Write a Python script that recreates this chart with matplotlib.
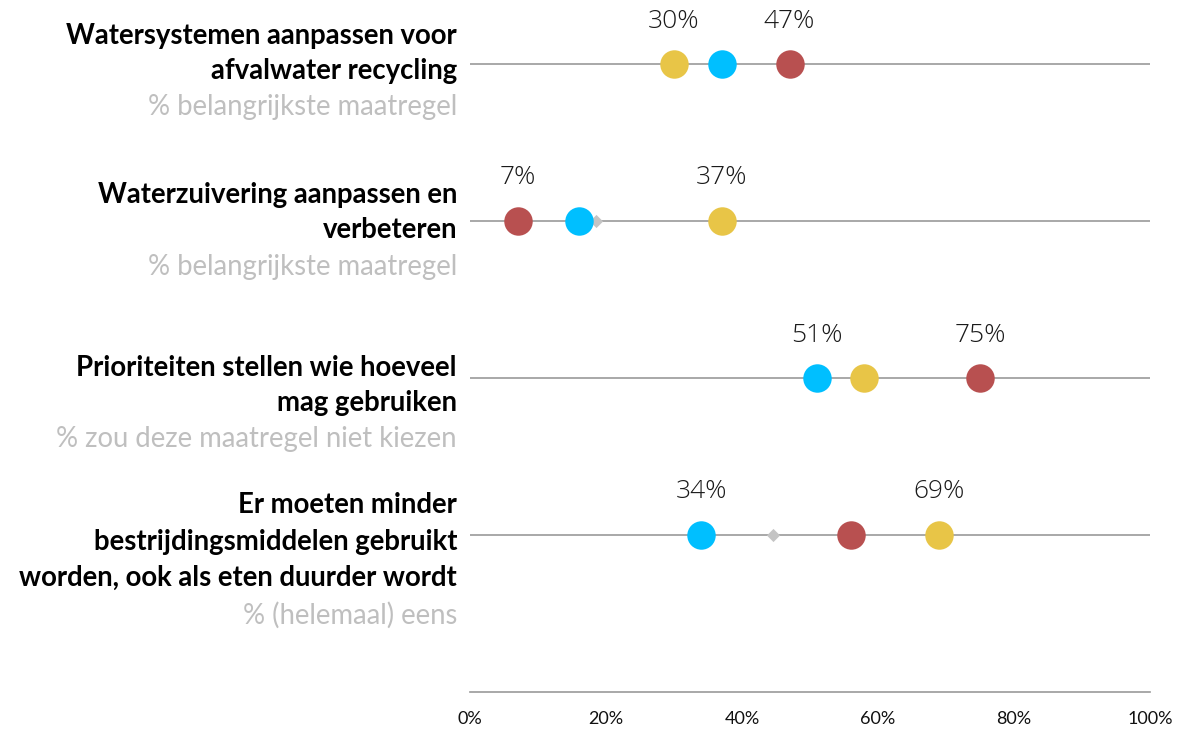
import matplotlib
matplotlib.use("Agg")
import matplotlib.pyplot as plt
import numpy as np

# ---- data ----
titles = [
    "Watersystemen aanpassen voor\nafvalwater recycling",
    "Waterzuivering aanpassen en\nverbeteren",
    "Prioriteiten stellen wie hoeveel\nmag gebruiken",
    "Er moeten minder\nbestrijdingsmiddelen gebruikt\nworden, ook als eten duurder wordt",
]
subtitles = [
    "% belangrijkste maatregel",
    "% belangrijkste maatregel",
    "% zou deze maatregel niet kiezen",
    "% (helemaal) eens",
]
series_red = [47, 7, 75, 56]
series_blue = [37, 16, 51, 34]
series_yellow = [30, 37, 58, 69]
average = [37, 18.5, 58, 44.5]
tick_values = [0, 20, 40, 60, 80, 100]
tick_labels = ["0%", "20%", "40%", "60%", "80%", "100%"]

# ---- styling ----
RED = "#B85050"
BLUE = "#00BFFF"
YELLOW = "#E8C547"
DIAMOND = "#C4C4C4"
LINE = "#999999"
SUB = "#BFBFBF"

W, H = 1177, 729
fig = plt.figure(figsize=(W / 100, H / 100), dpi=100)
x0, x1 = 470, 1150
ybase = 692
unit = 157
ax = fig.add_axes([x0 / W, (H - ybase) / H, (x1 - x0) / W, ybase / H])
ax.set_xlim(0, 100)
ax.set_ylim(0, ybase / unit)
ax.axis("off")

n = len(titles)
ypos = [n - i for i in range(n)]  # top row at 4

# row lines
for y in ypos:
    ax.plot([0, 100], [y, y], color=LINE, lw=1.2, zorder=1, solid_capstyle="butt")
# bottom axis line
ax.plot([0, 100], [0, 0], color=LINE, lw=1.2, zorder=1, clip_on=False)

ax.scatter(average, ypos, marker="D", s=45, color=DIAMOND, zorder=2, linewidths=0)
ms = 420
ax.scatter(series_red, ypos, s=ms, color=RED, zorder=3, linewidths=0)
ax.scatter(series_blue, ypos, s=ms, color=BLUE, zorder=3, linewidths=0)
ax.scatter(series_yellow, ypos, s=ms, color=YELLOW, zorder=3, linewidths=0)

# min / max labels
lab_font = dict(family=["Open Sans", "Lato", "DejaVu Sans"], fontsize=19, weight="light", color="#1a1a1a")
for i, y in enumerate(ypos):
    vals = [series_red[i], series_blue[i], series_yellow[i]]
    for v in (min(vals), max(vals)):
        ax.text(v, y + 43 / unit, f"{v:.0f}%", ha="center", va="center", zorder=4, **lab_font)

# tick labels
for v, t in zip(tick_values, tick_labels):
    ax.text(v, -27 / unit, t, ha="center", va="center", fontsize=13,
            family=["Lato", "DejaVu Sans"], color="#111111", clip_on=False)

# left labels
def px2y(py):
    return (ybase - py) / unit

title_tops = [18, 178, 350, 487]  # pixel tops of title blocks
xr = (457 - x0) / (x1 - x0) * 100
line_h = 35
for i in range(n):
    nlines = titles[i].count("\n") + 1
    lh = line_h if nlines < 3 else 36.5
    top = title_tops[i]
    for k, line in enumerate(titles[i].split("\n")):
        ax.text(xr, px2y(top + lh * k + lh / 2), line, ha="right", va="center",
                fontsize=19.8, weight="bold", family=["Lato", "DejaVu Sans"],
                color="black", clip_on=False)
    ax.text(xr, px2y(top + lh * nlines + lh / 2 + 1), subtitles[i], ha="right",
            va="center", fontsize=19.8, family=["Lato", "DejaVu Sans"], color=SUB,
            clip_on=False)

fig.savefig("out.png", dpi=100)
